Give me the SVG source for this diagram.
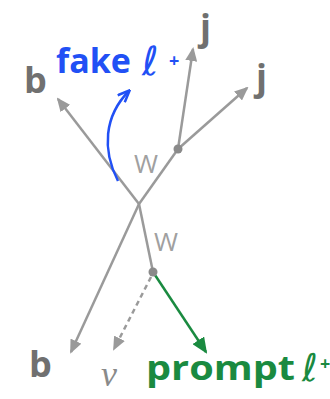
<svg xmlns="http://www.w3.org/2000/svg" width="330" height="399" viewBox="0 0 330 399">
<defs>
<style>
.ln{stroke:#9a9a9a;stroke-width:2.5;fill:none}
.lbl{font-family:"Open Sans","Liberation Sans",sans-serif;font-weight:700;fill:#707070}
.w{font-family:"Open Sans","Liberation Sans",sans-serif;font-weight:400;fill:#a0a0a0;font-size:26px}
.ell{font-family:"DejaVu Sans",sans-serif;font-style:italic}
.plus{font-family:"Open Sans","Liberation Sans",sans-serif;font-weight:700;font-size:18px}
.dot{fill:#8a8a8a}
</style>
<marker id="ag" markerUnits="userSpaceOnUse" markerWidth="14" markerHeight="12" viewBox="0 0 14 12" refX="12" refY="6" orient="auto"><path d="M0,0 L14,6 L0,12 z" fill="#9a9a9a"/></marker>
<marker id="agr" markerUnits="userSpaceOnUse" markerWidth="16" markerHeight="14" viewBox="0 0 16 14" refX="14" refY="7" orient="auto"><path d="M0,0 L16,7 L0,14 z" fill="#1a8a40"/></marker>
<marker id="abl" markerUnits="userSpaceOnUse" markerWidth="14" markerHeight="12" viewBox="0 0 14 12" refX="12" refY="6" orient="auto"><path d="M1,1 L13,6 L1,11" fill="none" stroke="#2150f5" stroke-width="2.5"/></marker>
</defs>
<g id="connectors">
<line class="ln" x1="139" y1="204" x2="58" y2="99" marker-end="url(#ag)"/>
<line class="ln" x1="139" y1="204" x2="178" y2="149"/>
<line class="ln" x1="178" y1="149" x2="193" y2="49" marker-end="url(#ag)"/>
<line class="ln" x1="178" y1="149" x2="247" y2="88" marker-end="url(#ag)"/>
<line class="ln" x1="139" y1="204" x2="71" y2="352" marker-end="url(#ag)"/>
<line class="ln" x1="139" y1="204" x2="153" y2="272"/>
<line class="ln" x1="151" y1="277" x2="114" y2="349" stroke-dasharray="5,4" marker-end="url(#ag)"/>
<line x1="153" y1="272" x2="206" y2="352" stroke="#1a8a40" stroke-width="2.5" marker-end="url(#agr)"/>
<path d="M118,181 C102,150 104,116 129,91" fill="none" stroke="#2150f5" stroke-width="2.5" marker-end="url(#abl)"/>
</g>
<g id="vertex-top"><circle class="dot" cx="178" cy="149" r="4.5"/></g>
<g id="vertex-bottom"><circle class="dot" cx="153" cy="272" r="4.5"/></g>
<g id="label-b-top"><text class="lbl" x="24" y="93" font-size="36">b</text></g>
<g id="label-fake"><text x="56" y="73" font-family="'Open Sans','Liberation Sans',sans-serif" font-weight="700" font-size="34" fill="#2150f5">fake</text><text class="ell" x="142" y="75" font-size="40" fill="#2150f5">ℓ</text><text class="plus" x="169" y="67" fill="#2150f5">+</text></g>
<g id="label-j-top"><text class="lbl" x="200" y="40" font-size="36">j</text></g>
<g id="label-j-right"><text class="lbl" x="256" y="90" font-size="36">j</text></g>
<g id="label-w-top"><text class="w" x="134" y="173">W</text></g>
<g id="label-w-bottom"><text class="w" x="154" y="251">W</text></g>
<g id="label-b-bottom"><text class="lbl" x="29" y="377" font-size="36">b</text></g>
<g id="label-nu"><text x="101" y="386" font-family="'Liberation Serif',serif" font-style="italic" font-size="36" fill="#8a8a8a">ν</text></g>
<g id="label-prompt"><text x="146" y="380" font-family="'Open Sans','Liberation Sans',sans-serif" font-weight="700" font-size="34" fill="#1a8a40" textLength="149" lengthAdjust="spacingAndGlyphs">prompt</text><text class="ell" x="302" y="381" font-size="38" fill="#1a8a40">ℓ</text><text class="plus" x="320" y="370" fill="#1a8a40">+</text></g>
</svg>
